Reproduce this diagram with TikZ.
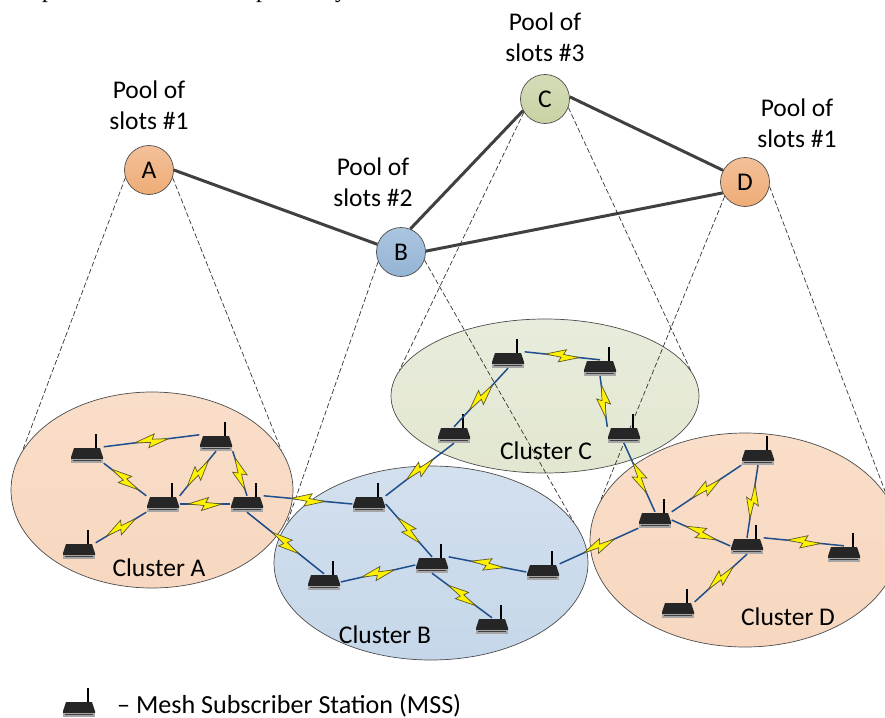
\documentclass[tikz,border=0pt]{standalone}
\usepackage{fontspec}
\setmainfont{Carlito}
\newfontfamily\pagefont{Liberation Serif}
\usetikzlibrary{shapes.geometric,positioning}
\definecolor{peachtop}{HTML}{F9DEC9}
\definecolor{peachbot}{HTML}{F7D7BF}
\definecolor{bluetop}{HTML}{D3E0EE}
\definecolor{bluebot}{HTML}{C5D7E9}
\definecolor{greentop}{HTML}{E8ECDC}
\definecolor{greenbot}{HTML}{E2E7D0}
\definecolor{linkblue}{HTML}{1F4E8C}
\definecolor{poolpeachtop}{HTML}{F3C09A}
\definecolor{poolpeachbot}{HTML}{EEAC76}
\definecolor{poolbluetop}{HTML}{ABC5E0}
\definecolor{poolbluebot}{HTML}{94B4D4}
\definecolor{poolgreentop}{HTML}{D4DCB8}
\definecolor{poolgreenbot}{HTML}{C8D3A4}
\tikzset{
	router/.pic={
		\fill[black!85] (-13,-7) -- (13,-7) -- (16,2) -- (16,4) -- (-16,4) -- (-16,2) -- cycle;
		\fill[black!35] (-16,4) rectangle (16,7.5);
		\fill[black!75] (-14,4.8) rectangle (14,5.8);
		\draw[black, line width=1.3pt] (9,-7) -- (9,-21);
	},
	zap/.pic={
		\filldraw[fill=yellow, draw=black!45!olive, line width=0.7pt, miter limit=3] (-17,0) -- (3.5,-6.5) -- (1,-1.5) -- (17,0) -- (-3.5,6.5) -- (-1,1.5) -- cycle;
	}
}
\begin{document}
\begin{tikzpicture}[x=1pt, y=-1pt]
	\tikzstyle{cluster} = [ellipse, draw=black!70, line width=0.7pt, inner sep=0pt]
	\tikzstyle{pool} = [circle, draw=black!70, line width=0.7pt, inner sep=0pt, minimum size=49pt, font=\fontsize{25.5}{31}\selectfont]
	\tikzstyle{label} = [align=center, inner sep=0pt, font=\fontsize{25.5}{31}\selectfont]
	\tikzstyle{mss} = [rectangle, inner sep=0pt, minimum width=33pt, minimum height=16pt]
	\tikzstyle{trunk} = [draw=black!75, line width=3pt]
	\tikzstyle{scope line} = [draw=black!80, line width=0.7pt, dash pattern=on 5pt off 2.5pt]
	\tikzstyle{line} = [draw=linkblue, line width=1.5pt]
	\useasboundingbox (0,0) rectangle (885,717);
	% page text cut off above
	\node[anchor=base, inner sep=0pt, font=\pagefont\fontsize{24}{24}\selectfont] (cut1) at (48,-2) {p};
	\node[anchor=base, inner sep=0pt, font=\pagefont\fontsize{24}{24}\selectfont] (cut2) at (262,-2) {p};
	\node[anchor=base, inner sep=0pt, font=\pagefont\fontsize{24}{24}\selectfont] (cut3) at (341,-2) {y};
	% clusters
	\node[cluster, top color=bluetop, bottom color=bluebot, minimum width=314pt, minimum height=194pt] (clusterB) at (431,563) {};
	\node[cluster, top color=greentop, bottom color=greenbot, minimum width=308pt, minimum height=154pt] (clusterC) at (545,396) {};
	\node[cluster, top color=peachtop, bottom color=peachbot, minimum width=282pt, minimum height=196pt] (clusterA) at (152,490) {};
	\node[cluster, top color=peachtop, bottom color=peachbot, minimum width=310pt, minimum height=214pt] (clusterD) at (745,540) {};
	\node[label] (nameA) at (159,568) {Cluster A};
	\node[label] (nameB) at (385,635) {Cluster B};
	\node[label] (nameC) at (546,451) {Cluster C};
	\node[label] (nameD) at (788,617) {Cluster D};
	% pools
	\node[pool, top color=poolpeachtop, bottom color=poolpeachbot] (A) at (149,170) {A};
	\node[pool, top color=poolbluetop, bottom color=poolbluebot] (B) at (401,252) {B};
	\node[pool, top color=poolgreentop, bottom color=poolgreenbot] (C) at (545,99) {C};
	\node[pool, top color=poolpeachtop, bottom color=poolpeachbot] (D) at (745,182) {D};
	\node[label] (slotsA) at (149,105) {Pool of\\slots \#1};
	\node[label] (slotsB) at (373,182) {Pool of\\slots \#2};
	\node[label] (slotsC) at (545,37) {Pool of\\slots \#3};
	\node[label] (slotsD) at (797,123) {Pool of\\slots \#1};
	\path[trunk] (A.0) -- (B.162);
	\path[trunk] (B.68) -- (C.208);
	\path[trunk] (B.2) -- (D.206);
	\path[trunk] (C.5) -- (D.152);
	% pool to cluster
	\path[scope line] (A.198) -- (clusterA.163);
	\path[scope line] (A.342) -- (clusterA.17);
	\path[scope line] (B.203) -- (clusterB.165);
	\path[scope line] (B.341) -- (clusterB.16);
	\path[scope line] (C.212) -- (clusterC.170);
	\path[scope line] (C.340) -- (clusterC.10);
	\path[scope line] (D.215) -- (clusterD.165);
	\path[scope line] (D.350) -- (clusterD.17);
	% stations
	\foreach \name/\pos in {a1/{87,455},a2/{216,443},a3/{163,504},a4/{247,504},a5/{79,551},
		b1/{369,504},b2/{432,565},b3/{324,582},b4/{543,572},b5/{492,626},
		c1/{508,360},c2/{600,368},c3/{454,435},c4/{624,435},
		d1/{655,520},d2/{758,457},d3/{747,546},d4/{844,554},d5/{678,610}}
		\path (\pos) node[mss] (\name) {} pic {router};
	% radio links
	\foreach \from/\to in {a1.north east/a2.north west,a1.south east/a3.north west,a2.south/a3.north east,
		a2.south east/a4.north,a3.east/a4.west,a3.south west/a5.north east,
		a4.north east/b1.west,a4.south/b3.north,
		b1.east/b2.north,b2.west/b3.east,b2.north east/b4.west,b2.south/b5.north,
		b1.north east/c3.south,c3.north/c1.south,c1.north east/c2.north,c2.south/c4.north west,
		c4.south/d1.north,b4.north east/d1.south west,
		d1.north east/d2.south west,d1.east/d3.west,d2.south/d3.north,d3.north east/d4.north,d3.south/d5.north east}
		\path[line] (\from) -- pic[sloped, pos=0.5] {zap} (\to);
	% legend
	\path (79,709) node[mss] (legend) {} pic {router};
	\node[label, anchor=west, font=\fontsize{26.1}{31}\selectfont] (legendtext) at (117,706) {-- Mesh Subscriber Station (MSS)};
\end{tikzpicture}
\end{document}
